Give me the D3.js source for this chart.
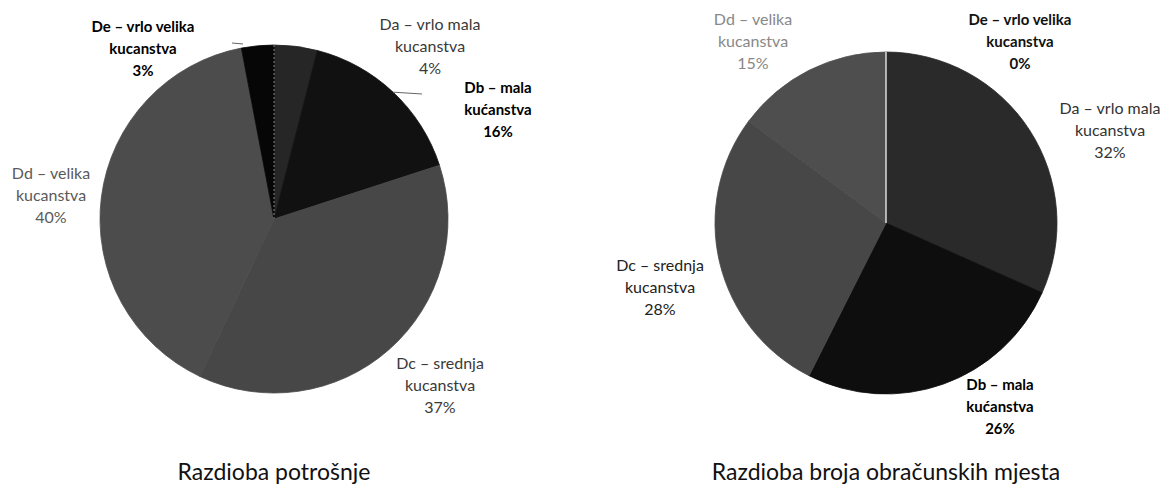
<!DOCTYPE html>
<head>
    <meta charset="utf-8">
    <title>Razdioba potrošnje i obračunskih mjesta</title>
    <style>
        html, body {
            margin: 0;
            background: #fff;
        }

        svg {
            display: block;
            font-family: Lato, "Open Sans", sans-serif;
        }

        .lbl {
            font-size: 16px;
        }

        .lbl.bold {
            font-size: 15px;
            font-weight: bold;
        }

        .title {
            font-size: 23px;
            fill: #111;
        }

        .leader {
            stroke: #666;
            stroke-width: 1px;
        }
    </style>
</head>
<body>
<script src="https://cdn.jsdelivr.net/npm/d3@7"></script>
<script>

    // categories, in the order Excel draws them (clockwise from 12 o'clock)
    const categories = ["Da – vrlo mala", "Db – mala", "Dc – srednja", "Dd – velika", "De – vrlo velika"];
    const secondLine = ["kucanstva", "kućanstva", "kucanstva", "kucanstva", "kucanstva"];

    // values in %
    const consumption = [4, 16, 37, 40, 3];
    const meteringPoints = [32, 26, 28, 15, 0];

    const titles = ["Razdioba potrošnje", "Razdioba broja obračunskih mjesta"];

    const width = 1166,
        height = 490;

    const svg = d3.select("body").append("svg")
        .attr("width", width)
        .attr("height", height);

    // scanned greys, one per category
    const fills = [
        ["#262626", "#111111", "#474747", "#4c4c4c", "#060606"],
        ["#2a2a2a", "#0e0e0e", "#474747", "#4e4e4e", "#ffffff"]
    ];

    // label placement relative to pie centre (first line), Excel moved these by hand
    const labelPos = [
        [[156, -195], [224, -131], [166, 144], [-223, -46], [-131, -192]],
        [[224, -115], [114, 162], [-226, 42], [-133, -204], [134, -203]]
    ];
    const labelBold = [
        [false, true, false, false, true],
        [false, true, false, false, true]
    ];
    const labelColor = [
        ["#3a3a3a", "#000", "#3a3a3a", "#5a5a5a", "#000"],
        ["#333", "#000", "#222", "#888", "#111"]
    ];

    const pies = [
        {values: consumption, cx: 274, cy: 219, r: 174},
        {values: meteringPoints, cx: 886, cy: 223, r: 171}
    ];

    const pie = d3.pie().sort(null).value(d => d);

    pies.forEach(function (p, i) {
        const g = svg.append("g")
            .attr("transform", `translate(${p.cx},${p.cy})`);

        const arc = d3.arc().innerRadius(0).outerRadius(p.r);
        const slices = pie(p.values);

        // stroke in the fill colour hides the anti-aliasing seams between slices
        g.selectAll("path")
            .data(slices)
            .enter().append("path")
            .attr("d", arc)
            .attr("fill", (d, j) => fills[i][j])
            .attr("stroke", (d, j) => d.value > 0 ? fills[i][j] : "none")
            .attr("stroke-width", 0.8)
            .attr("stroke-linejoin", "round");

        // thin white divider at 12 o'clock (the De / Da border)
        g.append("line")
            .attr("x1", 0).attr("y1", 0)
            .attr("x2", 0).attr("y2", -p.r)
            .attr("stroke", "#fff")
            .attr("stroke-opacity", i === 0 ? 0.5 : 0.8)
            .attr("stroke-width", i === 0 ? 1 : 1.5)
            .attr("stroke-dasharray", i === 0 ? "2,2" : null);

        const labels = g.selectAll("text.lbl")
            .data(p.values)
            .enter().append("text")
            .attr("class", (d, j) => labelBold[i][j] ? "lbl bold" : "lbl")
            .attr("text-anchor", "middle")
            .attr("fill", (d, j) => labelColor[i][j])
            .attr("transform", (d, j) => `translate(${labelPos[i][j][0]},${labelPos[i][j][1]})`);

        labels.append("tspan").attr("x", 0).attr("dy", "0.35em").text((d, j) => categories[j]);
        labels.append("tspan").attr("x", 0).attr("dy", 22).text((d, j) => secondLine[j]);
        labels.append("tspan").attr("x", 0).attr("dy", 22).text(d => d + "%");

        g.append("text")
            .attr("class", "title")
            .attr("text-anchor", "middle")
            .attr("y", 480 - p.cy)
            .text(titles[i]);

        // short leader lines on the first chart (Db and De)
        if (i === 0) {
            const edge = d3.arc().innerRadius(p.r).outerRadius(p.r);
            const leaders = [
                {from: edge.centroid(slices[1]), to: [422 - p.cx, 94 - p.cy]},
                {from: [232 - p.cx, 43 - p.cy], to: [243 - p.cx, 44 - p.cy]}
            ];
            g.selectAll("line.leader")
                .data(leaders)
                .enter().append("line")
                .attr("class", "leader")
                .attr("x1", d => d.from[0])
                .attr("y1", d => d.from[1])
                .attr("x2", d => d.to[0])
                .attr("y2", d => d.to[1]);
        }
    });

</script>
</body>
